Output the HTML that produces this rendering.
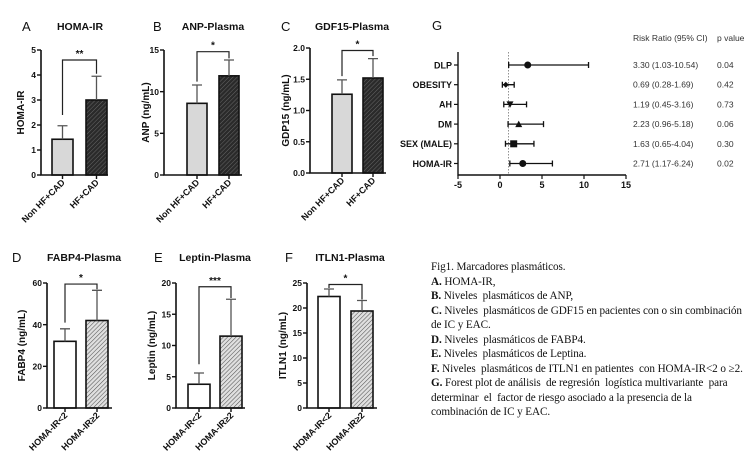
<!DOCTYPE html>
<html><head><meta charset="utf-8"><style>
html,body{margin:0;padding:0;background:#fff;}
body{width:750px;height:469px;overflow:hidden;position:relative;}
svg text{font-family:"Liberation Sans",sans-serif;}
#caption{position:absolute;left:431px;top:260px;font-family:"Liberation Serif",serif;font-size:11.2px;line-height:14.5px;color:#111;white-space:nowrap;letter-spacing:-0.1px;}
</style></head><body>
<svg id="fig" width="750" height="469" viewBox="0 0 750 469" xmlns="http://www.w3.org/2000/svg">
<defs>
<pattern id="hatchDark" width="3" height="3" patternUnits="userSpaceOnUse" patternTransform="rotate(45)"><rect width="3" height="3" fill="#2a2a2a"/><line x1="0" y1="0" x2="0" y2="3" stroke="#666" stroke-width="1"/></pattern>
<pattern id="hatchLight" width="3" height="3" patternUnits="userSpaceOnUse" patternTransform="rotate(45)"><rect width="3" height="3" fill="#e0e0e0"/><line x1="0" y1="0" x2="0" y2="3" stroke="#555" stroke-width="1.1"/></pattern>
</defs>
</svg>
<div id="caption">Fig1. Marcadores plasmáticos.<br><b>A.</b> HOMA-IR,<br><b>B.</b> Niveles&nbsp; plasmáticos de ANP,<br><b>C.</b> Niveles&nbsp; plasmáticos de GDF15 en pacientes con o sin combinación<br>de IC y EAC.<br><b>D.</b> Niveles&nbsp; plasmáticos de FABP4.<br><b>E.</b> Niveles&nbsp; plasmáticos de Leptina.<br><b>F.</b> Niveles&nbsp; plasmáticos de ITLN1 en patientes&nbsp; con HOMA-IR&lt;2 o ≥2.<br><b>G.</b> Forest plot de análisis&nbsp; de regresión&nbsp; logística multivariante&nbsp; para<br>determinar&nbsp; el&nbsp; factor de riesgo asociado a la presencia de la<br>combinación de IC y EAC.</div>
<script>
// ---- bar chart data ----
const groupsTop = ["Non HF+CAD", "HF+CAD"];
const groupsBottom = ["HOMA-IR<2", "HOMA-IR≥2"];
const meanA = [1.43, 3.0];   const errA = [1.97, 3.95];
const meanB = [8.6, 11.9];   const errB = [10.8, 13.8];
const meanC = [1.26, 1.52];  const errC = [1.49, 1.83];
const meanD = [32, 42];      const errD = [38, 56.5];
const meanE = [3.8, 11.5];   const errE = [5.6, 17.4];
const meanF = [22.3, 19.4];  const errF = [23.8, 21.5];
const ticksA = [0,1,2,3,4,5];
const ticksB = [0,5,10,15];
const ticksC = [0,0.5,1.0,1.5,2.0];
const ticksD = [0,20,40,60];
const ticksE = [0,5,10,15,20];
const ticksF = [0,5,10,15,20,25];
const sigA = ["**", 4.6, 2.4, 4.05];
const sigB = ["*", 14.8, 11.2, 14.0];
const sigC = ["*", 1.96, 1.55, 1.87];
const sigD = ["*", 59.5, 41, 57];
const sigE = ["***", 19.4, 7, 17.6];
const sigF = ["*", 24.7, 24.0, 21.7];
// ---- forest plot data ----
const fpFactors = ["DLP","OBESITY","AH","DM","SEX (MALE)","HOMA-IR"];
const fpRR = [3.30, 0.69, 1.19, 2.23, 1.63, 2.71];
const fpLo = [1.03, 0.28, 0.45, 0.96, 0.65, 1.17];
const fpHi = [10.54, 1.69, 3.16, 5.18, 4.04, 6.24];
const fpP = ["0.04","0.42","0.73","0.06","0.30","0.02"];
const fpMarkers = ["circle","diamond","tridown","triup","square","circle"];
const fpTicks = [-5,0,5,10,15];

const NS="http://www.w3.org/2000/svg";
const svg=document.getElementById('fig');
function el(tag,attrs,parent,txt){const e=document.createElementNS(NS,tag);for(const k in attrs)e.setAttribute(k,attrs[k]);if(txt!==undefined)e.textContent=txt;(parent||svg).appendChild(e);return e;}

function barPanel(cfg){
  const g=el('g',{});
  
  
  const y=v=>cfg.y0-(v/cfg.max)*(cfg.y0-cfg.yTop);
  const t=el('text',{x:cfg.letterX,y:cfg.titleY+1,'font-size':13,fill:'#111'},g,cfg.letter);
  
  
  const tt=el('text',{x:cfg.titleX,y:cfg.titleY,'font-size':10.5,'font-weight':'bold','text-anchor':'middle',fill:'#111'},g,cfg.title);
  
  
  for(let i=0;i<2;i++){
    const x=cfg.barX[i];
    const r=el('rect',{x:x,y:y(cfg.mean[i]),width:cfg.bw,height:cfg.y0-y(cfg.mean[i]),fill:cfg.fills[i],stroke:'#111','stroke-width':1.6},g);
    
    
    const cx=x+cfg.bw/2;
    const eb=el('path',{d:`M${cx} ${y(cfg.mean[i])}V${y(cfg.err[i])}M${cx-5} ${y(cfg.err[i])}H${cx+5}`,stroke:'#555','stroke-width':1.3,fill:'none'},g);
    
    
    el('line',{x1:cx,y1:cfg.y0,x2:cx,y2:cfg.y0+4,stroke:'#111','stroke-width':1.4},g);
    const lt=el('text',{transform:`translate(${cx+3},${cfg.y0+8}) rotate(-45)`,'font-size':9,'font-weight':'bold','text-anchor':'end',fill:'#111'},g,cfg.groups[i]);
    
    
  }
  const ax=el('path',{d:`M${cfg.axX} ${cfg.yTop}V${cfg.y0}H${cfg.axEnd}`,stroke:'#111','stroke-width':1.6,fill:'none'},g);
  
  
  cfg.ticks.forEach(v=>{
    el('line',{x1:cfg.axX-4,y1:y(v),x2:cfg.axX,y2:y(v),stroke:'#111','stroke-width':1.4},g);
    const tl=el('text',{x:cfg.axX-5,y:y(v)+3.2,'font-size':8.5,'font-weight':'bold','text-anchor':'end',fill:'#111'},g,cfg.fmt?v.toFixed(1):String(v));
    
    
  });
  const yt=el('text',{transform:`translate(${cfg.yTitleX},${(cfg.y0+cfg.yTop)/2}) rotate(-90)`,'font-size':10,'font-weight':'bold','text-anchor':'middle',fill:'#111'},g,cfg.ytitle);
  
  
  const c1=cfg.barX[0]+cfg.bw/2,c2=cfg.barX[1]+cfg.bw/2,s=cfg.sig;
  const br=el('path',{d:`M${c1} ${y(s[2])}V${y(s[1])}H${c2}V${y(s[3])}`,stroke:'#222','stroke-width':1.2,fill:'none'},g);
  
  
  const st=el('text',{x:(c1+c2)/2,y:y(s[1])-3,'font-size':10,'font-weight':'bold','text-anchor':'middle',fill:'#111'},g,s[0]);
  
  
}
const dk='url(#hatchDark)', lh='url(#hatchLight)';
barPanel({name:'panel-a-homa-ir',letter:'A',letterX:22,title:'HOMA-IR',titleX:80,titleY:30,y0:175,yTop:50,max:5,axX:41,axEnd:108,barX:[52,86],bw:21,mean:meanA,err:errA,ticks:ticksA,sig:sigA,fills:['#d8d8d8',dk],groups:groupsTop,ytitle:'HOMA-IR',yTitleX:24});
barPanel({name:'panel-b-anp',letter:'B',letterX:153,title:'ANP-Plasma',titleX:213,titleY:30,y0:175,yTop:50,max:15,axX:164,axEnd:242,barX:[187,219],bw:20,mean:meanB,err:errB,ticks:ticksB,sig:sigB,fills:['#d8d8d8',dk],groups:groupsTop,ytitle:'ANP (ng/mL)',yTitleX:149});
barPanel({name:'panel-c-gdf15',letter:'C',letterX:281,title:'GDF15-Plasma',titleX:352,titleY:30,y0:173,yTop:48,max:2,axX:310,axEnd:386,barX:[332,363],bw:20,mean:meanC,err:errC,ticks:ticksC,sig:sigC,fills:['#d8d8d8',dk],groups:groupsTop,ytitle:'GDP15 (ng/mL)',yTitleX:289,fmt:true});
barPanel({name:'panel-d-fabp4',letter:'D',letterX:12,title:'FABP4-Plasma',titleX:84,titleY:261,y0:408,yTop:283,max:60,axX:47,axEnd:112,barX:[54,86],bw:22,mean:meanD,err:errD,ticks:ticksD,sig:sigD,fills:['#fff',lh],groups:groupsBottom,ytitle:'FABP4 (ng/mL)',yTitleX:25});
barPanel({name:'panel-e-leptin',letter:'E',letterX:154,title:'Leptin-Plasma',titleX:215,titleY:261,y0:408,yTop:283,max:20,axX:176,axEnd:245,barX:[188,220],bw:22,mean:meanE,err:errE,ticks:ticksE,sig:sigE,fills:['#fff',lh],groups:groupsBottom,ytitle:'Leptin (ng/mL)',yTitleX:155});
barPanel({name:'panel-f-itln1',letter:'F',letterX:285,title:'ITLN1-Plasma',titleX:350,titleY:261,y0:408,yTop:283,max:25,axX:307,axEnd:377,barX:[318,351],bw:22,mean:meanF,err:errF,ticks:ticksF,sig:sigF,fills:['#fff',lh],groups:groupsBottom,ytitle:'ITLN1 (ng/mL)',yTitleX:286});

(function(){
  const g=el('g',{});
  
  
  const x=v=>458+(v+5)*8.4;
  const rowY=i=>65+i*19.7;
  const L=el('text',{x:432,y:30,'font-size':13,fill:'#111'},g,'G');
  
  
  const h1=el('text',{x:633,y:41,'font-size':8.5,fill:'#333'},g,'Risk Ratio (95% CI)');
  
  
  const h2=el('text',{x:717,y:41,'font-size':8.5,fill:'#333'},g,'p value');
  
  
  const ref=el('line',{x1:x(1),y1:52,x2:x(1),y2:175,stroke:'#777','stroke-width':0.8,'stroke-dasharray':'1.5,1.5'},g);
  
  
  const ax=el('path',{d:`M458 52V175H${x(15)}`,stroke:'#111','stroke-width':1.4,fill:'none'},g);
  
  
  fpTicks.forEach(v=>{
    el('line',{x1:x(v),y1:175,x2:x(v),y2:179,stroke:'#111','stroke-width':1.2},g);
    const t=el('text',{x:x(v),y:188,'font-size':9,'font-weight':'bold','text-anchor':'middle',fill:'#111'},g,String(v));
    
    
  });
  fpFactors.forEach((f,i)=>{
    const y=rowY(i);
    el('line',{x1:454,y1:y,x2:458,y2:y,stroke:'#111','stroke-width':1.2},g);
    const lab=el('text',{x:452,y:y+3.3,'font-size':9,'font-weight':'bold','text-anchor':'end',fill:'#111'},g,f);
    
    
    const ci=el('path',{d:`M${x(fpLo[i])} ${y}H${x(fpHi[i])}M${x(fpLo[i])} ${y-3}V${y+3}M${x(fpHi[i])} ${y-3}V${y+3}`,stroke:'#111','stroke-width':1.3,fill:'none'},g);
    
    
    const cx=x(fpRR[i]);let m;
    if(fpMarkers[i]==='circle')m=el('circle',{cx:cx,cy:y,r:3.5,fill:'#111'},g);
    else if(fpMarkers[i]==='square')m=el('rect',{x:cx-3.5,y:y-3.5,width:7,height:7,fill:'#111'},g);
    else if(fpMarkers[i]==='diamond')m=el('path',{d:`M${cx} ${y-3}L${cx+3} ${y}L${cx} ${y+3}L${cx-3} ${y}Z`,fill:'#111'},g);
    else if(fpMarkers[i]==='triup')m=el('path',{d:`M${cx} ${y-3.5}L${cx+3.5} ${y+3}L${cx-3.5} ${y+3}Z`,fill:'#111'},g);
    else m=el('path',{d:`M${cx} ${y+3.5}L${cx+3.5} ${y-3}L${cx-3.5} ${y-3}Z`,fill:'#111'},g);
    
    
    const rr=el('text',{x:633,y:y+3,'font-size':8.5,fill:'#333'},g,`${fpRR[i].toFixed(2)} (${fpLo[i].toFixed(2)}-${fpHi[i].toFixed(2)})`);
    
    
    const p=el('text',{x:717,y:y+3,'font-size':8.5,fill:'#333'},g,fpP[i]);
    
    
  });
})();
</script>
</body></html>
